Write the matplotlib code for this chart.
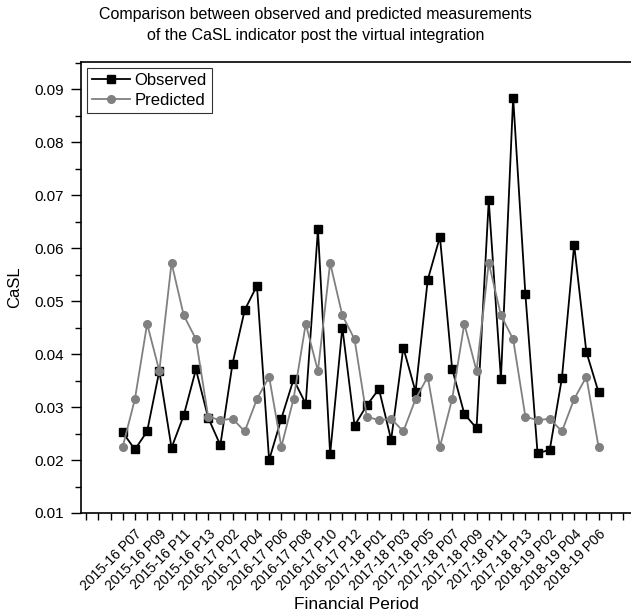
import numpy as np
import matplotlib.pyplot as plt

plt.rcParams['font.family'] = ['Liberation Sans', 'DejaVu Sans']

periods = [
    "2015-16 P06", "2015-16 P07", "2015-16 P08", "2015-16 P09", "2015-16 P10",
    "2015-16 P11", "2015-16 P12", "2015-16 P13",
    "2016-17 P01", "2016-17 P02", "2016-17 P03", "2016-17 P04", "2016-17 P05",
    "2016-17 P06", "2016-17 P07", "2016-17 P08", "2016-17 P09", "2016-17 P10",
    "2016-17 P11", "2016-17 P12", "2016-17 P13",
    "2017-18 P01", "2017-18 P02", "2017-18 P03", "2017-18 P04", "2017-18 P05",
    "2017-18 P06", "2017-18 P07", "2017-18 P08", "2017-18 P09", "2017-18 P10",
    "2017-18 P11", "2017-18 P12", "2017-18 P13",
    "2018-19 P01", "2018-19 P02", "2018-19 P03", "2018-19 P04", "2018-19 P05",
    "2018-19 P06",
]

observed = [
    0.0252, 0.0220, 0.0254, 0.0368, 0.0223, 0.0284, 0.0371, 0.0280, 0.0228, 0.0382,
    0.0483, 0.0529, 0.0200, 0.0278, 0.0352, 0.0306, 0.0635, 0.0211, 0.0450, 0.0265,
    0.0303, 0.0334, 0.0238, 0.0412, 0.0329, 0.0540, 0.0621, 0.0372, 0.0287, 0.0260,
    0.0690, 0.0353, 0.0884, 0.0514, 0.0213, 0.0219, 0.0355, 0.0606, 0.0404, 0.0328,
]

predicted = [
    0.0225, 0.0315, 0.0457, 0.0368, 0.0572, 0.0473, 0.0428, 0.0282, 0.0275, 0.0278,
    0.0254, 0.0315, 0.0357, 0.0225, 0.0315, 0.0457, 0.0368, 0.0572, 0.0473, 0.0428,
    0.0282, 0.0275, 0.0278, 0.0254, 0.0315, 0.0357, 0.0225, 0.0315, 0.0457, 0.0368,
    0.0572, 0.0473, 0.0428, 0.0282, 0.0275, 0.0278, 0.0254, 0.0315, 0.0357, 0.0225,
]

x = np.arange(len(periods))

fig = plt.figure(figsize=(6.31, 6.15), dpi=100)
ax = fig.add_axes([81 / 631, 1 - 513 / 615, 550 / 631, (513 - 62) / 615])

ax.plot(x, observed, color='black', lw=1.3, marker='s', ms=6, label='Observed')
ax.plot(x, predicted, color='#808080', lw=1.3, marker='o', ms=5.5, label='Predicted')

ax.set_xlim(-3.42, 41.66)
ax.set_ylim(0.01, 0.0951)

ticks = np.arange(-3, 42)
labels = []
for t in ticks:
    if 0 <= t < len(periods) and t % 2 == 1:
        labels.append(periods[t])
    else:
        labels.append('')
ax.set_xticks(ticks)
ax.set_xticklabels(labels, rotation=45, ha='right', va='top',
                   rotation_mode='anchor', fontsize=10)

ax.set_yticks(np.arange(0.01, 0.0951, 0.01))
ax.set_yticks(np.arange(0.015, 0.0951, 0.01), minor=True)
ax.yaxis.set_major_formatter(plt.FormatStrFormatter('%.2f'))
ax.tick_params(axis='y', which='major', direction='out', length=7, width=1,
               labelsize=11, pad=5)
ax.tick_params(axis='y', which='minor', direction='out', length=4, width=1)
ax.tick_params(axis='x', which='major', direction='out', length=5, width=1, pad=5)

ax.spines['right'].set_visible(False)
for s in ['left', 'top', 'bottom']:
    ax.spines[s].set_linewidth(1.2)

ax.set_xlabel('Financial Period', fontsize=12.5, labelpad=3)
ax.set_ylabel('CaSL', fontsize=12, labelpad=9)

fig.suptitle('Comparison between observed and predicted measurements\n'
             'of the CaSL indicator post the virtual integration',
             x=0.5, y=0.988, fontsize=11.5, linespacing=1.45)

leg = ax.legend(loc='upper left', fontsize=12, frameon=True, fancybox=False,
                edgecolor='black', borderaxespad=0.35, handlelength=2.3,
                borderpad=0.3, labelspacing=0.3, handletextpad=0.25)
leg.get_frame().set_linewidth(0.8)

fig.savefig('out.png', dpi=100)
